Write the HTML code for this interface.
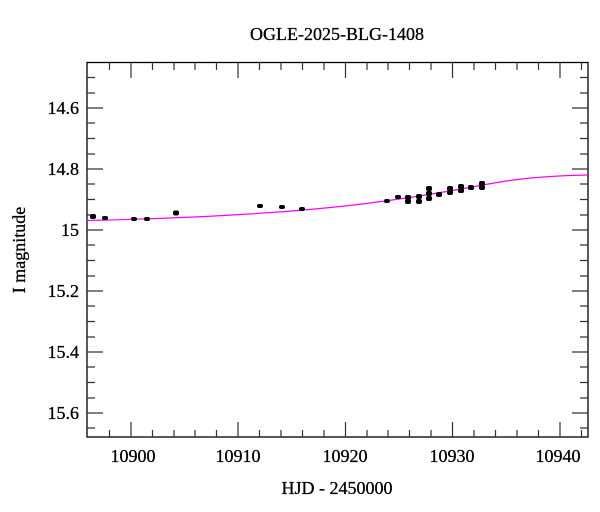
<!DOCTYPE html>
<html><head><style>
html,body{margin:0;padding:0;background:#fff;}
svg{display:block;font-family:"Liberation Serif",serif;}
</style></head><body>
<svg width="600" height="512" viewBox="0 0 600 512" xmlns="http://www.w3.org/2000/svg">
<rect width="600" height="512" fill="#fff"/>
<g stroke="#000" stroke-width="0.3">
<text x="337" y="40" font-size="18" text-anchor="middle">OGLE-2025-BLG-1408</text>
<text x="337" y="494" font-size="18" text-anchor="middle">HJD - 2450000</text>
<text transform="translate(25,250) rotate(-90)" font-size="18" text-anchor="middle">I magnitude</text>
</g>
<g stroke="#000" stroke-width="1.3" fill="none">
<rect x="87" y="62.5" width="501" height="374.5"/>
</g>
<g stroke="#333" stroke-width="1.2">
<path d="M109.5 437v-7M109.5 63v7M152.5 437v-7M152.5 63v7M174 437v-7M174 63v7M195 437v-7M195 63v7M216.5 437v-7M216.5 63v7M259.5 437v-7M259.5 63v7M281 437v-7M281 63v7M302.5 437v-7M302.5 63v7M324 437v-7M324 63v7M367 437v-7M367 63v7M388 437v-7M388 63v7M409.5 437v-7M409.5 63v7M431 437v-7M431 63v7M474 437v-7M474 63v7M495.5 437v-7M495.5 63v7M517 437v-7M517 63v7M538.5 437v-7M538.5 63v7M581.5 437v-7M581.5 63v7"/>
<path d="M131 437v-15M131 63v15M238 437v-15M238 63v15M345.5 437v-15M345.5 63v15M452.5 437v-15M452.5 63v15M560 437v-15M560 63v15"/>
<path d="M87 77.5h8M588 77.5h-8M87 138.5h8M588 138.5h-8M87 199.5h8M588 199.5h-8M87 260.5h8M588 260.5h-8M87 321.5h8M588 321.5h-8M87 382.5h8M588 382.5h-8M87 93h8M588 93h-8M87 123h8M588 123h-8M87 154h8M588 154h-8M87 184h8M588 184h-8M87 215h8M588 215h-8M87 245h8M588 245h-8M87 276h8M588 276h-8M87 306h8M588 306h-8M87 337h8M588 337h-8M87 367h8M588 367h-8M87 398h8M588 398h-8M87 428h8M588 428h-8"/>
<path d="M87 108h16M588 108h-16M87 169h16M588 169h-16M87 230h16M588 230h-16M87 291h16M588 291h-16M87 352h16M588 352h-16M87 413h16M588 413h-16"/>
</g>
<g font-size="18" text-anchor="middle" stroke="#000" stroke-width="0.3">
<text x="133" y="462">10900</text><text x="238" y="462">10910</text><text x="345" y="462">10920</text><text x="452" y="462">10930</text><text x="558" y="462">10940</text>
</g>
<g font-size="18" text-anchor="end" stroke="#000" stroke-width="0.3">
<text x="79" y="114">14.6</text><text x="79" y="175">14.8</text><text x="79" y="236">15</text><text x="79" y="297">15.2</text><text x="79" y="358">15.4</text><text x="79" y="419">15.6</text>
</g>
<path d="M87 220.5 C 200 218, 300 212, 370 203 S 470 187, 500 182 S 560 175.5, 588 175" stroke="#ff00ff" stroke-width="1.2" fill="none"/>
<g fill="#000">
<rect x="90" y="214" width="6" height="5" rx="2"/><rect x="102" y="216" width="6" height="4" rx="2"/>
<rect x="131" y="217" width="6" height="4" rx="2"/><rect x="144" y="217" width="6" height="4" rx="2"/>
<rect x="173" y="210.5" width="6" height="5" rx="2"/><rect x="257" y="204" width="6" height="4" rx="2"/>
<rect x="279" y="205" width="6" height="4" rx="2"/><rect x="299" y="207" width="6" height="4" rx="2"/>
<rect x="384" y="199" width="6" height="4" rx="2"/><rect x="395" y="195" width="6" height="4" rx="2"/>
<rect x="405" y="195" width="6" height="5" rx="2"/><rect x="405" y="199" width="6" height="5" rx="2"/>
<rect x="416" y="194" width="6" height="5" rx="2"/><rect x="416" y="199" width="6" height="5" rx="2"/>
<rect x="426" y="186" width="6" height="5" rx="2"/><rect x="426" y="191" width="6" height="5" rx="2"/><rect x="426" y="196" width="6" height="5" rx="2"/>
<rect x="436" y="192" width="6" height="5" rx="2"/>
<rect x="447" y="186" width="6" height="5" rx="2"/><rect x="447" y="190" width="6" height="5" rx="2"/>
<rect x="458" y="184" width="6" height="5" rx="2"/><rect x="458" y="188" width="6" height="5" rx="2"/>
<rect x="468" y="185" width="6" height="5" rx="2"/>
<rect x="479" y="181" width="6" height="5" rx="2"/><rect x="479" y="185" width="6" height="5" rx="2"/>
</g>
</svg>
</body></html>
